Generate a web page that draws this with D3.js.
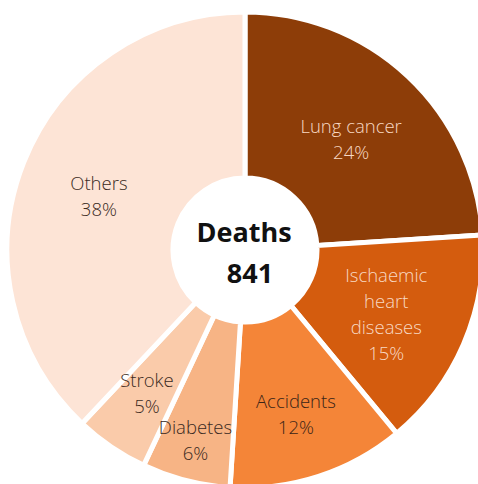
<!DOCTYPE html>
<html>
<head>
<meta charset="utf-8">
<script src="https://cdn.jsdelivr.net/npm/d3@7"></script>
<style>
  body { margin: 0; background: #fff; }
  svg { display: block; }
</style>
</head>
<body>
<script>
var causes = ["Lung cancer", "Ischaemic heart diseases", "Accidents", "Diabetes", "Stroke", "Others"];
var labelLines = [["Lung cancer"], ["Ischaemic", "heart", "diseases"], ["Accidents"], ["Diabetes"], ["Stroke"], ["Others"]];
var shares = [24, 15, 12, 6, 5, 38];
var totalDeaths = 841;

var colors = ["#8d3d08", "#d45c0e", "#f48538", "#f7b485", "#facbaa", "#fde4d6"];
var textColors = ["#f8d9c3", "#f8d9c3", "#3a2417", "#3a2a22", "#3a2a22", "#3a2a22"];

var width = 478, height = 484;
var cx = 245, cy = 250;
var outerR = 238, innerR = 72;

// hand-tuned nudges so labels sit where the original puts them
var nudge = {
    "Lung cancer": [0, 3],
    "Ischaemic heart diseases": [-1, 3],
    "Accidents": [3, 17],
    "Diabetes": [-11, 40],
    "Stroke": [-11, 15],
    "Others": [-2, 4]
};

var data = causes.map(function(c, i) {
    return {name: c, lines: labelLines[i], value: shares[i], color: colors[i], text: textColors[i]};
});

var svg = d3.select("body").append("svg")
            .attr("width", width)
            .attr("height", height)
            .append("g")
            .attr("transform", "translate(" + cx + "," + cy + ")");

var pie = d3.pie().value(d => d.value).sort(null);
var arc = d3.arc().innerRadius(innerR).outerRadius(outerR);
var labelArc = d3.arc().innerRadius(155).outerRadius(155);

var arcs = pie(data);

svg.selectAll("path")
    .data(arcs)
    .join("path")
    .attr("d", arc)
    .attr("fill", d => d.data.color)
    .attr("stroke", "#fff")
    .attr("stroke-width", 5)
    .attr("stroke-linejoin", "miter");

var lineH = 26;
var labels = svg.selectAll("text.label")
    .data(arcs)
    .join("text")
    .attr("class", "label")
    .attr("text-anchor", "middle")
    .attr("font-family", "'Open Sans', 'Noto Sans', sans-serif")
    .attr("font-weight", 300)
    .attr("font-size", "18.5px")
    .attr("fill", d => d.data.text)
    .attr("transform", function(d) {
        var c = labelArc.centroid(d);
        var n = nudge[d.data.name] || [0, 0];
        return "translate(" + (c[0] + n[0]) + "," + (c[1] + n[1]) + ")";
    });

labels.each(function(d) {
    var lines = d.data.lines.concat([d.data.value + "%"]);
    var top = -(lines.length - 1) * lineH / 2;
    d3.select(this).selectAll("tspan")
        .data(lines)
        .join("tspan")
        .attr("x", 0)
        .attr("y", (t, i) => top + i * lineH)
        .attr("dy", "0.35em")
        .text(t => t);
});

// centre
svg.append("text")
    .attr("x", -1)
    .attr("y", -8)
    .attr("text-anchor", "middle")
    .attr("font-family", "'Open Sans', 'Noto Sans', sans-serif")
    .attr("font-weight", 700)
    .attr("font-size", "27px")
    .attr("fill", "#111")
    .text("Deaths");

svg.append("text")
    .attr("x", 5)
    .attr("y", 33)
    .attr("text-anchor", "middle")
    .attr("font-family", "'Open Sans', 'Noto Sans', sans-serif")
    .attr("font-weight", 700)
    .attr("font-size", "27px")
    .attr("fill", "#111")
    .text(totalDeaths);
</script>
</body>
</html>
